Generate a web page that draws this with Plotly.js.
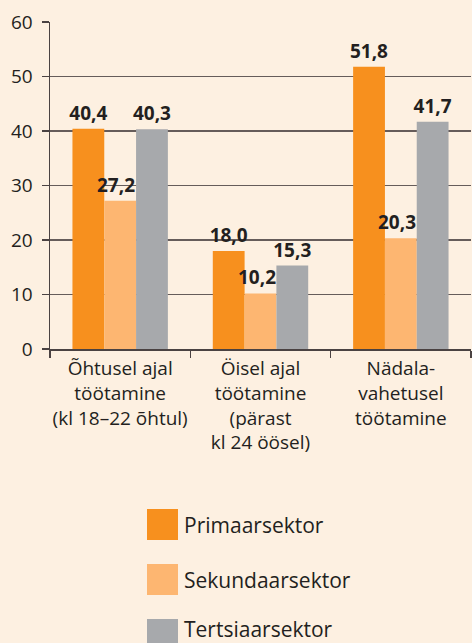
<!DOCTYPE html>
<html><head><meta charset="utf-8">
<script src="https://cdn.plot.ly/plotly-3.0.1.min.js"></script>
<style>html,body{margin:0;padding:0;background:#fdf0e1;}</style>
</head><body>
<div id="chart" style="width:472px;height:643px;"></div>
<script>
const categories = ["Õhtusel ajal<br>töötamine<br>(kl 18–22 õhtul)", "Öisel ajal<br>töötamine<br>(pärast<br>kl 24 öösel)", "Nädala-<br>vahetusel<br>töötamine"];
const seriesNames = ["Primaarsektor", "Sekundaarsektor", "Tertsiaarsektor"];
const primaar = [40.4, 18.0, 51.8];
const sekundaar = [27.2, 10.2, 20.3];
const tertsiaar = [40.3, 15.3, 41.7];
const colors = ["#f7901e", "#fdb671", "#a7a9ac"];
const seriesValues = [primaar, sekundaar, tertsiaar];
const yTicks = [0, 10, 20, 30, 40, 50, 60];

const FONT = "Open Sans, Noto Sans, DejaVu Sans, sans-serif";
const W = 472, H = 643, ML = 50, MR = 1, MT = 22, MB = 294;
const fmt = v => v.toFixed(1).replace(".", ",");
const labelFont = {family: FONT, size: 19, color: "#231f20", weight: "bold"};

const traces = seriesValues.map((vals, i) => ({
  type: "bar",
  name: seriesNames[i],
  x: categories,
  y: vals,
  marker: {color: colors[i], line: {width: 0}},
  // middle series labels are drawn as annotations so they sit on top of the neighbouring bar
  text: i === 1 ? vals.map(() => "") : vals.map(fmt),
  textposition: "outside",
  constraintext: "none",
  textfont: labelFont,
  cliponaxis: false,
  showlegend: false,
  hoverinfo: "skip"
}));

const shapes = [], annotations = [];
sekundaar.forEach((v, j) => {
  annotations.push({xref: "x", yref: "y", x: categories[j], y: v,
    xanchor: "center", yanchor: "bottom", yshift: 1, xshift: -4,
    showarrow: false, text: fmt(v), font: labelFont});
});

// legend built from the series names/colours
const legTop = [509, 564, 619];
seriesNames.forEach((n, i) => {
  const y0 = legTop[i], y1 = legTop[i] + 31;
  const px = x => (x - ML) / (W - ML - MR);
  const py = y => (H - MB - y) / (H - MT - MB);
  shapes.push({type: "rect", xref: "paper", yref: "paper",
    x0: px(147), x1: px(178), y0: py(y1), y1: py(y0),
    fillcolor: colors[i], line: {width: 0}});
  const cy = i === 2 ? (y0 + y1) / 2 - 6 : (y0 + y1) / 2;
  annotations.push({xref: "paper", yref: "paper", x: px(183), y: py(cy),
    xanchor: "left", yanchor: "middle", showarrow: false, text: n, borderpad: 0,
    font: {family: FONT, size: 21, color: "#231f20"}});
});

const layout = {
  width: W, height: H,
  margin: {l: ML, r: MR, t: MT, b: MB},
  paper_bgcolor: "#fdf0e1",
  plot_bgcolor: "#fdf0e1",
  font: {family: FONT, size: 19, color: "#231f20"},
  barmode: "group",
  bargap: 0.32,
  bargroupgap: 0,
  xaxis: {
    type: "category",
    tickson: "boundaries",
    tickangle: 0,
    ticks: "outside", ticklen: 7, tickwidth: 1.5, tickcolor: "#4a4242",
    showline: true, linecolor: "#4a4242", linewidth: 1.5,
    tickfont: {family: FONT, size: 19, color: "#231f20"},
    ticklabelstandoff: 2,
    showgrid: false, zeroline: false,
    fixedrange: true
  },
  yaxis: {
    range: [0, 60],
    tickvals: yTicks,
    ticktext: yTicks.map(String),
    ticks: "outside", ticklen: 7, tickwidth: 1.5, tickcolor: "#4a4242",
    showline: true, linecolor: "#4a4242", linewidth: 1.5,
    showgrid: true, gridcolor: "#665c5a", gridwidth: 1.4,
    zeroline: false,
    tickfont: {family: FONT, size: 19, color: "#231f20"},
    ticklabelstandoff: 5,
    fixedrange: true
  },
  shapes: shapes,
  annotations: annotations,
  showlegend: false
};

Plotly.newPlot("chart", traces, layout, {displayModeBar: false, staticPlot: true});
</script>
</body></html>
